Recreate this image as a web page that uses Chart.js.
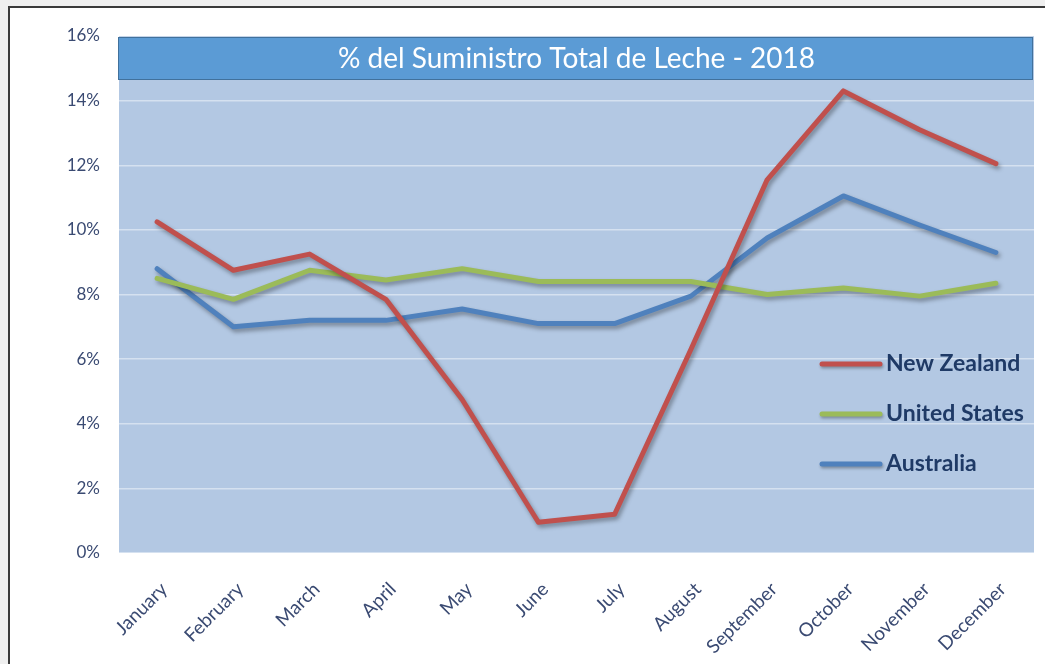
<!DOCTYPE html>
<html>
<head>
<meta charset="utf-8">
<script src="https://cdn.jsdelivr.net/npm/chart.js@4.4.0/dist/chart.umd.min.js"></script>
<style>
  html, body { margin:0; padding:0; background:#efefef; }
  #wrap { position:relative; width:1045px; height:664px; overflow:hidden; }
  #frame { position:absolute; left:8px; top:6px; width:1100px; height:700px; background:#fff;
           border-top:2px solid #3a3a3a; border-left:2px solid #3a3a3a; }
  #c { position:absolute; left:0; top:0; }
</style>
</head>
<body>
<div id="wrap">
  <div id="frame"></div>
  <canvas id="c" width="1045" height="664"></canvas>
</div>
<script>
const TITLE = '% del Suministro Total de Leche - 2018';
const MONTHS = ['January','February','March','April','May','June','July','August','September','October','November','December'];
const NEW_ZEALAND = [10.25, 8.75, 9.25, 7.85, 4.75, 0.95, 1.2, 6.3, 11.55, 14.3, 13.1, 12.05];
const UNITED_STATES = [8.5, 7.85, 8.75, 8.45, 8.8, 8.4, 8.4, 8.4, 8.0, 8.2, 7.95, 8.35];
const AUSTRALIA = [8.8, 7.0, 7.2, 7.2, 7.55, 7.1, 7.1, 7.95, 9.75, 11.05, 10.15, 9.3];
const SERIES_NAMES = ['New Zealand', 'United States', 'Australia'];
const Y_MIN = 0, Y_MAX = 16, Y_STEP = 2;

const TICK_COLOR = '#3a4a72';
const FONT = 'Lato, "Open Sans", sans-serif';

const bgPlugin = {
  id: 'bgPlugin',
  beforeDraw(chart) {
    const {ctx, chartArea: a} = chart;
    ctx.save();
    ctx.fillStyle = '#b3c8e3';
    ctx.fillRect(a.left, a.top, a.right - a.left, a.bottom - a.top);
    ctx.restore();
  },
  beforeDatasetsDraw(chart) {
    const {ctx, chartArea: a} = chart;
    ctx.save();
    const h = 43;
    ctx.fillStyle = '#5b9bd5';
    ctx.fillRect(a.left - 1, a.top + 1, a.right - a.left, h);
    ctx.strokeStyle = '#41719c';
    ctx.lineWidth = 1;
    ctx.strokeRect(a.left - 0.5, a.top + 1.5, a.right - a.left - 1, h - 1);
    ctx.fillStyle = '#ffffff';
    ctx.font = '28px ' + FONT;
    ctx.textAlign = 'center';
    ctx.textBaseline = 'middle';
    ctx.fillText(TITLE, (a.left + a.right) / 2, a.top + 1 + h / 2);
    ctx.restore();
  },
  beforeDatasetDraw(chart) {
    const ctx = chart.ctx;
    ctx.save();
    ctx.shadowColor = 'rgba(0,0,0,0.35)';
    ctx.shadowBlur = 4;
    ctx.shadowOffsetX = 2;
    ctx.shadowOffsetY = 3;
  },
  afterDatasetDraw(chart) {
    chart.ctx.restore();
  },
  afterDraw(chart) {
    const {ctx, chartArea: a} = chart;
    ctx.save();
    const x0 = a.right - 212, x1 = a.right - 154;
    const ys = [a.top + 328, a.top + 378, a.top + 428];
    chart.data.datasets.forEach((ds, i) => {
      ctx.save();
      ctx.shadowColor = 'rgba(0,0,0,0.3)';
      ctx.shadowBlur = 3;
      ctx.shadowOffsetX = 1;
      ctx.shadowOffsetY = 2;
      ctx.strokeStyle = ds.borderColor;
      ctx.lineWidth = 5;
      ctx.lineCap = 'round';
      ctx.beginPath();
      ctx.moveTo(x0, ys[i]);
      ctx.lineTo(x1, ys[i]);
      ctx.stroke();
      ctx.restore();
      ctx.fillStyle = '#1f3a66';
      ctx.font = 'bold 23px ' + FONT;
      ctx.textAlign = 'left';
      ctx.textBaseline = 'middle';
      ctx.fillText(ds.label, x1 + 6, ys[i]);
    });
    ctx.restore();
  }
};

new Chart(document.getElementById('c'), {
  type: 'line',
  data: {
    labels: MONTHS,
    datasets: [
      { label: SERIES_NAMES[0], data: NEW_ZEALAND, borderColor: '#c0504d' },
      { label: SERIES_NAMES[1], data: UNITED_STATES, borderColor: '#9bbb59' },
      { label: SERIES_NAMES[2], data: AUSTRALIA, borderColor: '#4f81bd' }
    ].map(d => Object.assign(d, {
      borderWidth: 5, pointRadius: 0, pointHoverRadius: 0, tension: 0,
      borderCapStyle: 'round', borderJoinStyle: 'round', fill: false
    }))
  },
  options: {
    responsive: false,
    animation: false,
    devicePixelRatio: 1,
    layout: { padding: { left: 0, top: 36, right: 11, bottom: 0 } },
    plugins: { legend: { display: false }, title: { display: false }, tooltip: { enabled: false } },
    scales: {
      x: {
        offset: true,
        grid: { display: false, drawTicks: false },
        border: { display: false },
        ticks: {
          autoSkip: false, minRotation: 45, maxRotation: 45, padding: 25, labelOffset: 7,
          color: TICK_COLOR, font: { family: FONT, size: 19 }
        },
        afterFit(scale) { scale.height = 111; }
      },
      y: {
        min: Y_MIN, max: Y_MAX,
        grid: { color: 'rgba(255,255,255,0.45)', lineWidth: 1.5, drawTicks: false },
        border: { display: false },
        ticks: {
          stepSize: Y_STEP, padding: 19, color: TICK_COLOR,
          font: { family: FONT, size: 17 },
          callback: v => v + '%'
        },
        afterFit(scale) { scale.width = 119; }
      }
    }
  },
  plugins: [bgPlugin]
});
</script>
</body>
</html>
